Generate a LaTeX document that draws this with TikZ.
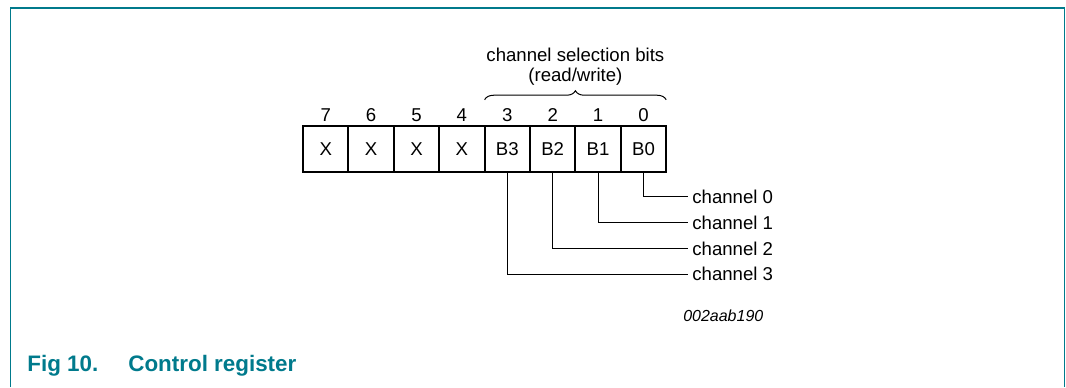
\documentclass[tikz,border=0pt]{standalone}
\usepackage{fontspec}
\setmainfont{Liberation Sans}
\usepackage{tikz}
\usetikzlibrary{positioning,decorations.pathreplacing}
\definecolor{nxpteal}{RGB}{0,122,140}
\tikzset{x=0.5pt,y=-0.5pt,every node/.style={font=\fontsize{9.3}{11}\selectfont},
  bit/.style={draw,line width=1pt,minimum width=22.7pt,minimum height=23pt,inner sep=0pt,outer sep=0pt},
  bitno/.style={inner sep=0pt},
  chan/.style={anchor=west,inner sep=2pt},
  wire/.style={line width=0.6pt}}

\begin{document}
\begin{tikzpicture}
    \useasboundingbox (0,0) rectangle (1066,387);
    % frame
    \draw[nxpteal,line width=0.8pt] (10.5,387) -- (10.5,8) -- (1064.5,8) -- (1064.5,387);
    % register
    \node[bit] (b7) at (325.7,148.7) {X};
    \node[bit] (b6) [right=0pt of b7] {X};
    \node[bit] (b5) [right=0pt of b6] {X};
    \node[bit] (b4) [right=0pt of b5] {X};
    \node[bit] (b3) [right=0pt of b4] {B3};
    \node[bit] (b2) [right=0pt of b3] {B2};
    \node[bit] (b1) [right=0pt of b2] {B1};
    \node[bit] (b0) [right=0pt of b1] {B0};
    \node[bitno] (n7) [above=1.7pt of b7] {7};
    \node[bitno] (n6) [above=1.7pt of b6] {6};
    \node[bitno] (n5) [above=1.7pt of b5] {5};
    \node[bitno] (n4) [above=1.7pt of b4] {4};
    \node[bitno] (n3) [above=1.7pt of b3] {3};
    \node[bitno] (n2) [above=1.7pt of b2] {2};
    \node[bitno] (n1) [above=1.7pt of b1] {1};
    \node[bitno] (n0) [above=1.7pt of b0] {0};
    % selection bits
    \draw[line width=0.5pt,decorate,decoration={brace,amplitude=4.5pt}]
    ([yshift=4.3pt]n3.north -| b3.west) -- node[midway,anchor=base,yshift=9.1pt] (rw) {(read/write)}
    ([yshift=4.3pt]n0.north -| b0.east);
    \node[anchor=base] (sel) at ([yshift=10pt]rw.base) {channel selection bits};
    % channels
    \node[chan] (c0) at (688,196.7) {channel 0};
    \node[chan] (c1) [below=1.7pt of c0] {channel 1};
    \node[chan] (c2) [below=1.7pt of c1] {channel 2};
    \node[chan] (c3) [below=1.7pt of c2] {channel 3};
    \draw[wire] (b0.south) |- (c0.west);
    \draw[wire] (b1.south) |- (c1.west);
    \draw[wire] (b2.south) |- (c2.west);
    \draw[wire] (b3.south) |- (c3.west);
    \node[font=\fontsize{8}{10}\selectfont\itshape] (id) at (723.3,315.7) {002aab190};
    % caption
    \node[anchor=base west,inner sep=0pt,text=nxpteal,font=\fontsize{11.2}{13}\selectfont\bfseries] (cap)
    at (27,371.7) {Fig 10.\hspace{15pt}Control register};
\end{tikzpicture}
\end{document}
